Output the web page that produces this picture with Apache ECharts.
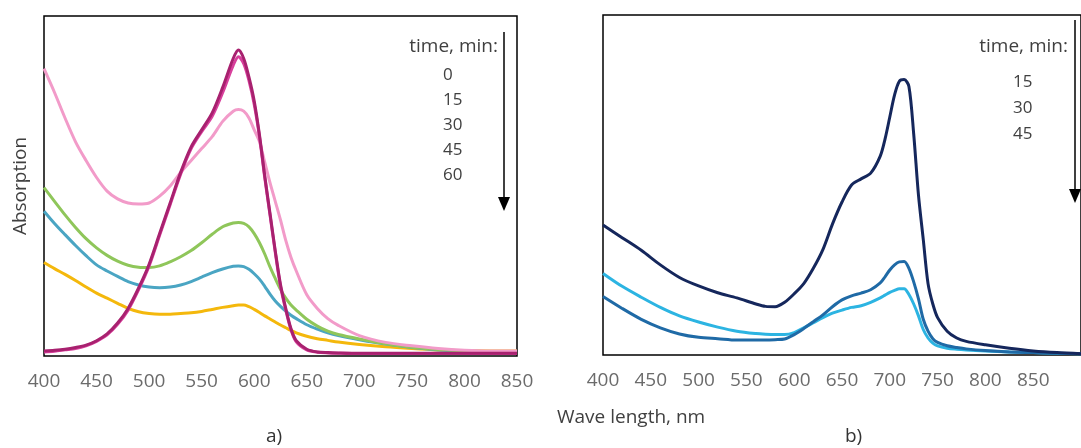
<!DOCTYPE html>
<html>
<head>
<meta charset="utf-8">
<script src="https://cdn.jsdelivr.net/npm/echarts@6/dist/echarts.min.js"></script>
<style>
  html, body { margin: 0; padding: 0; background: #fff; }
  #chart { width: 1081px; height: 448px; }
</style>
</head>
<body>
<div id="chart"></div>
<script>
// panel a) wavelengths, nm
const waveA = [400, 410, 420, 430, 440, 450, 460, 470, 480, 490,
    500, 510, 520, 530, 540, 550, 560, 570, 580, 585,
    590, 595, 600, 605, 610, 615, 620, 625, 630, 635,
    640, 650, 660, 670, 680, 700, 725, 750, 775, 800,
    825, 850];

const magentaDark = [.015, .017, .02, .025, .032, .045, .065, .097, .14, .2,
    .27, .36, .45, .54, .615, .665, .715, .79, .875, .9,
    .875, .82, .75, .65, .53, .42, .31, .21, .14, .08,
    .045, .02, .012, .01, .009, .008, .008, .008, .008, .008,
    .008, .008];
const magenta = [.012, .014, .018, .022, .03, .043, .062, .093, .135, .195,
    .265, .355, .445, .535, .61, .66, .705, .775, .855, .88,
    .86, .81, .74, .645, .525, .415, .305, .205, .135, .077,
    .042, .018, .011, .009, .008, .007, .007, .007, .007, .007,
    .007, .007];
const pink = [.845, .775, .70, .63, .575, .525, .485, .462, .45, .447,
    .45, .47, .50, .54, .575, .61, .645, .69, .72, .725,
    .72, .70, .665, .63, .57, .51, .455, .40, .34, .29,
    .25, .18, .14, .11, .09, .06, .04, .03, .022, .017,
    .015, .015];
const green = [.495, .455, .415, .378, .345, .318, .296, .279, .267, .261,
    .26, .265, .277, .292, .31, .333, .358, .38, .391, .393,
    .39, .38, .36, .333, .30, .262, .228, .196, .17, .15,
    .135, .108, .088, .073, .063, .05, .036, .026, .019, .015,
    .013, .012];
const teal = [.426, .39, .357, .325, .295, .268, .25, .234, .219, .209,
    .203, .201, .203, .209, .219, .232, .245, .256, .264, .265,
    .263, .255, .242, .226, .205, .182, .162, .146, .132, .12,
    .11, .092, .079, .068, .06, .048, .035, .025, .018, .014,
    .012, .011];
const yellow = [.275, .257, .24, .222, .203, .185, .17, .155, .14, .13,
    .125, .123, .123, .125, .127, .131, .137, .143, .148, .15,
    .15, .145, .137, .128, .118, .109, .1, .091, .083, .075,
    .068, .058, .051, .046, .041, .034, .027, .022, .018, .016,
    .015, .015];

// panel b) wavelengths, nm
const waveB = [400, 420, 440, 460, 480, 500, 520, 540, 560, 570,
    580, 590, 600, 610, 620, 630, 640, 650, 660, 670,
    680, 690, 695, 700, 705, 710, 715, 720, 725, 730,
    735, 740, 745, 750, 760, 770, 780, 800, 825, 850,
    875, 900];

const navy = [.382, .345, .308, .265, .228, .203, .183, .168, .15, .143,
    .142, .155, .18, .21, .255, .31, .385, .45, .50, .518,
    .535, .585, .635, .70, .765, .805, .81, .79, .65, .47,
    .34, .21, .15, .11, .07, .05, .04, .03, .02, .012,
    .007, .004];
const midBlue = [.172, .137, .105, .08, .062, .052, .048, .044, .044, .044,
    .045, .047, .06, .078, .098, .118, .142, .162, .174, .182,
    .192, .212, .23, .25, .265, .274, .275, .255, .215, .165,
    .105, .07, .048, .037, .027, .022, .018, .013, .009, .007,
    .005, .004];
const cyan = [.24, .202, .17, .14, .115, .097, .082, .07, .063, .061,
    .06, .06, .066, .08, .095, .11, .123, .132, .14, .145,
    .155, .168, .176, .184, .19, .195, .195, .178, .15, .115,
    .075, .05, .035, .027, .02, .017, .015, .012, .009, .007,
    .005, .004];

// legend text
const timesA = ['0', '15', '30', '45', '60'];
const timesB = ['15', '30', '45'];

const FONT = '"Open Sans", sans-serif';

function pairs(xs, ys) {
    return xs.map(function (x, i) { return [x, ys[i]]; });
}

function line(name, xIdx, xs, ys, color) {
    return {
        name: name,
        type: 'line',
        xAxisIndex: xIdx,
        yAxisIndex: xIdx,
        smooth: 0.3,
        showSymbol: false,
        lineStyle: { color: color, width: 3 },
        data: pairs(xs, ys)
    };
}

function xAxis(idx, max) {
    return {
        type: 'value',
        gridIndex: idx,
        min: 400,
        max: max,
        interval: 50,
        axisLine: { show: false },
        axisTick: { show: false },
        splitLine: { show: false },
        axisLabel: {
            margin: 16,
            color: '#6b6b6b',
            fontFamily: FONT,
            fontSize: 19,
            showMaxLabel: max === 850
        }
    };
}

function yAxis(idx, name) {
    return {
        type: 'value',
        gridIndex: idx,
        min: 0,
        max: 1,
        axisLine: { show: false },
        axisTick: { show: false },
        axisLabel: { show: false },
        splitLine: { show: false },
        name: name,
        nameLocation: 'middle',
        nameGap: 14,
        nameTextStyle: { color: '#404040', fontFamily: FONT, fontSize: 19 }
    };
}

// "time, min:" heading with the times listed under it
function legendText(x, yHead, yFirst, items, step) {
    const els = [{
        type: 'text', right: 1081 - x - 55, top: yHead - 12,
        style: { text: 'time, min:', fill: '#404040', font: '19px ' + FONT }
    }];
    items.forEach(function (t, i) {
        els.push({
            type: 'text', left: x, top: yFirst - 11 + i * step,
            style: { text: t, fill: '#404040', font: '17px ' + FONT, textAlign: 'center' }
        });
    });
    return els;
}

function arrow(x, y1, y2) {
    return [
        { type: 'line', shape: { x1: x, y1: y1, x2: x, y2: y2 - 12 }, style: { stroke: '#000', lineWidth: 1.5 } },
        { type: 'polygon', shape: { points: [[x - 6, y2 - 14], [x + 6, y2 - 14], [x, y2]] }, style: { fill: '#000' } }
    ];
}

var chartDom = document.getElementById('chart');
var myChart = echarts.init(chartDom);

var graphics = []
    .concat(legendText(443, 49, 78, timesA, 25))
    .concat(legendText(1013, 49, 85, timesB, 26))
    .concat(arrow(504, 32, 211))
    .concat(arrow(1075, 20, 203))
    .concat([
        { type: 'text', left: 557, top: 408, style: { text: 'Wave length, nm', fill: '#404040', font: '19px ' + FONT, textAlign: 'center' } },
        { type: 'text', left: 266, top: 427, style: { text: 'a)', fill: '#333', font: '19px ' + FONT, textAlign: 'center' } },
        { type: 'text', left: 845, top: 427, style: { text: 'b)', fill: '#333', font: '19px ' + FONT, textAlign: 'center' } }
    ]);

var option = {
    animation: false,
    backgroundColor: '#fff',
    grid: [
        { left: 44, top: 16, width: 473, height: 340, show: true, borderColor: '#000', borderWidth: 1.5 },
        { left: 603, top: 15, width: 486, height: 340, show: true, borderColor: '#000', borderWidth: 1.5 }
    ],
    xAxis: [xAxis(0, 850), xAxis(1, 900)],
    yAxis: [yAxis(0, 'Absorption'), yAxis(1, '')],
    series: [
        line('60', 0, waveA, yellow, '#f4b80c'),
        line('45', 0, waveA, teal, '#4aa5c3'),
        line('30', 0, waveA, green, '#8fc65a'),
        line('15', 0, waveA, pink, '#f29bc9'),
        line('0b', 0, waveA, magenta, '#d8409c'),
        line('0', 0, waveA, magentaDark, '#a8216f'),
        line('45', 1, waveB, cyan, '#2cb4e2'),
        line('30', 1, waveB, midBlue, '#1f6aa6'),
        line('15', 1, waveB, navy, '#15275c')
    ],
    graphic: graphics
};

option && myChart.setOption(option);
</script>
</body>
</html>
